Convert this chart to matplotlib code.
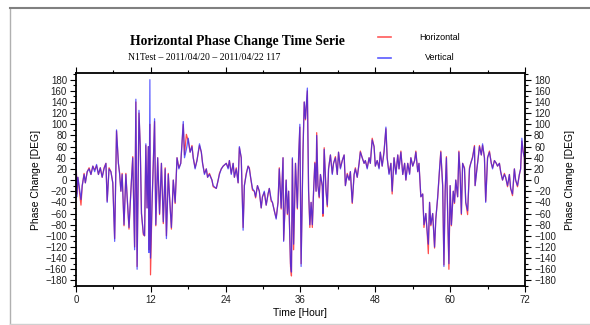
import matplotlib
matplotlib.use("Agg")
import matplotlib.pyplot as plt
from matplotlib.lines import Line2D
from matplotlib.ticker import MultipleLocator

# valores (horas, grados)
hours = [
    0.0, 0.15, 0.3, 0.5, 0.8, 1.0, 1.3, 1.5, 1.8, 2.1, 2.4, 2.7, 3.0, 3.3, 3.6, 3.9,
    4.2, 4.5, 4.8, 5.0, 5.3, 5.6, 5.9, 6.2, 6.5, 6.8, 7.0, 7.2, 7.4, 7.7, 8.0, 8.2,
    8.5, 8.8, 9.1, 9.4, 9.6, 9.8, 10.1, 10.3, 10.5, 10.8, 11.0, 11.2, 11.4, 11.6, 11.7, 11.85,
    11.95, 12.2, 12.4, 12.6, 12.8, 13.1, 13.4, 13.7, 14.0, 14.3, 14.5, 14.8, 15.1, 15.3, 15.6, 15.9,
    16.2, 16.5, 16.8, 17.2, 17.4, 17.7, 18.0, 18.3, 18.6, 18.8, 19.1, 19.4, 19.8, 20.1, 20.3, 20.6,
    20.9, 21.1, 21.4, 21.8, 22.0, 22.5, 22.8, 23.0, 23.3, 23.6, 24.1, 24.4, 24.6, 24.9, 25.2, 25.4,
    25.7, 26.0, 26.2, 26.5, 26.8, 27.0, 27.3, 27.6, 27.8, 28.0, 28.3, 28.6, 28.8, 29.1, 29.4, 29.7,
    29.9, 30.2, 30.5, 30.8, 31.0, 31.3, 31.5, 31.8, 32.1, 32.4, 32.6, 32.9, 33.2, 33.3, 33.7, 33.9,
    34.1, 34.4, 34.55, 34.7, 34.9, 35.2, 35.5, 35.7, 35.9, 36.1, 36.4, 36.6, 36.8, 37.1, 37.3, 37.5,
    37.7, 37.9, 38.1, 38.3, 38.5, 38.6, 38.8, 39.0, 39.2, 39.5, 39.6, 39.8, 40.1, 40.3, 40.5, 40.8,
    41.1, 41.3, 41.6, 41.9, 42.1, 42.4, 42.7, 43.0, 43.2, 43.5, 43.8, 44.0, 44.3, 44.6, 44.8, 45.1,
    45.4, 45.6, 45.9, 46.2, 46.4, 46.7, 47.0, 47.2, 47.5, 47.8, 48.0, 48.3, 48.6, 48.8, 49.1, 49.4,
    49.7, 49.9, 50.2, 50.5, 50.7, 51.0, 51.3, 51.6, 51.8, 52.1, 52.4, 52.7, 52.9, 53.2, 53.5, 53.7,
    54.0, 54.3, 54.5, 54.8, 55.0, 55.3, 55.6, 55.8, 56.1, 56.3, 56.5, 56.7, 56.9, 57.2, 57.5, 57.7,
    58.0, 58.3, 58.5, 58.8, 59.0, 59.2, 59.4, 59.6, 59.8, 60.0, 60.2, 60.5, 60.7, 60.9, 61.2, 61.4,
    61.6, 61.8, 62.0, 62.3, 62.5, 62.8, 63.1, 63.3, 63.6, 63.9, 64.0, 64.3, 64.5, 64.7, 65.0, 65.2,
    65.5, 65.7, 66.0, 66.3, 66.6, 66.8, 67.1, 67.4, 67.6, 67.9, 68.1, 68.4, 68.7, 68.9, 69.2, 69.5,
    69.7, 70.0, 70.3, 70.5, 70.8, 71.1, 71.3, 71.5, 71.7, 71.9, 72.0,
]

vertical = [
    50, -30, 5, -10, -35, -10, 10, -5, 15, 20, 10, 25, 15, 28, 10, 22,
    5, 20, 30, -40, 20, 15, -5, -110, 90, 30, 10, -20, 10, -80, 10, -30,
    -85, -20, 40, -125, 145, -160, 125, 60, -60, -95, -100, 65, -50, 60, -130, 180,
    -140, -40, 30, 110, -80, 40, -60, 30, -75, 20, -105, 10, -50, -85, 0, -40,
    40, 20, 30, 105, 40, 55, 75, 50, 60, 40, 20, 35, 65, 50, 30, 10,
    20, 5, 10, 0, -10, -15, 0, 10, 20, 25, 30, 20, 35, 10, 30, 5,
    20, -5, 60, 40, -90, -10, 10, 25, 20, 5, -15, -20, -30, -10, -20, -50,
    -30, -20, -45, -25, -15, -35, -40, -55, -70, -40, 20, -50, 40, -110, 0, -60,
    -20, -150, -165, 40, -115, 30, -50, 40, 100, -155, 50, 140, 110, 165, -20, -80,
    -40, -80, -20, 30, -20, 80, -10, -30, 10, -10, -60, 55, -20, -45, 20, 45,
    10, 30, 40, 10, 50, 20, 35, 45, -10, 10, 0, 15, -40, 10, 20, 5,
    30, 50, 40, 30, 35, 20, 40, 30, 72, 60, 25, 35, 20, 50, 25, 50,
    95, 40, 10, 30, -20, 40, 10, 45, 20, 50, 10, 30, 0, 30, 10, 40,
    25, 35, 50, 15, 30, -30, -25, -80, -60, -90, -115, -40, -80, -60, -120, -70,
    -30, 20, 50, -10, -155, -20, 40, -60, -150, -10, -80, -20, -40, 0, -30, 50,
    10, -60, 30, 20, -40, -55, 20, 30, 40, 60, -10, 20, 40, 60, 45, 65,
    40, -40, 40, 50, 30, 20, 35, 30, 25, 30, 15, 0, 10, 5, -10, 10,
    -15, -25, 20, 0, -10, 10, 20, 75, 50, 40, -90,
]

horizontal = [
    45, -25, 5, -15, -45, -10, 12, -5, 15, 22, 10, 25, 18, 26, 10, 22,
    5, 22, 30, -38, 22, 15, -5, -105, 88, 30, 12, -20, 12, -82, 12, -30,
    -88, -20, 42, -120, 140, -155, 120, 62, -60, -98, -100, 62, -50, 60, -125, 100,
    -170, -40, 32, 105, -82, 40, -62, 30, -78, 22, -100, 12, -50, -88, 0, -42,
    40, 22, 30, 100, 45, 82, 70, 50, 62, 40, 22, 35, 62, 50, 30, 12,
    20, 5, 12, 0, -12, -15, 0, 12, 20, 25, 30, 22, 35, 12, 30, 5,
    22, -5, 58, 40, -85, -10, 12, 25, 22, 5, -18, -20, -32, -10, -20, -50,
    -30, -22, -45, -25, -15, -38, -40, -55, -68, -40, 22, -52, 40, -108, 0, -62,
    -20, -155, -172, 38, -125, 30, -52, 40, 95, -150, 52, 140, 108, 160, -20, -85,
    -40, -85, -20, 32, -20, 85, -10, -32, 10, -12, -65, 58, -20, -48, 20, 45,
    12, 30, 42, 10, 50, 22, 35, 45, -10, 12, 0, 15, -42, 10, 22, 5,
    30, 52, 40, 30, 35, 22, 40, 30, 75, 60, 25, 35, 22, 50, 25, 52,
    92, 40, 12, 30, -25, 40, 12, 45, 20, 52, 10, 30, 0, 30, 12, 40,
    25, 35, 52, 15, 30, -30, -25, -85, -60, -92, -132, -40, -82, -60, -122, -70,
    -32, 20, 52, -10, -152, -20, 42, -62, -160, -10, -82, -20, -42, 0, -30, 52,
    10, -62, 30, 22, -40, -62, 22, 30, 42, 62, -10, 22, 40, 62, 45, 62,
    40, -38, 40, 52, 30, 22, 35, 30, 25, 30, 15, 0, 12, 5, -12, 10,
    -15, -28, 20, 0, -12, 10, 20, 70, 52, 40, -85,
]

xticks = [0, 12, 24, 36, 48, 60, 72]
yticks = list(range(-180, 181, 20))

plt.rcParams['font.family'] = ['Liberation Sans', 'DejaVu Sans']

fig = plt.figure(figsize=(5.9, 3.25), dpi=100)
ax = fig.add_axes([0.1288, 0.12, 0.761, 0.6554])

# marco de la pagina
fig.add_artist(Line2D([10/590, 10/590], [1 - 8/325, 1 - 324/325], transform=fig.transFigure,
                      color='#b0b0b0', lw=1))
fig.add_artist(Line2D([10/590, 1.0], [1 - 8/325, 1 - 8/325], transform=fig.transFigure,
                      color='#808080', lw=1.5))
fig.add_artist(Line2D([10/590, 1.0], [1 - 324/325, 1 - 324/325], transform=fig.transFigure,
                      color='#d0d0d0', lw=1))

ax.plot(hours, horizontal, color='#ff2020', lw=0.9, alpha=0.8)
ax.plot(hours, vertical, color='#2020ff', lw=0.9, alpha=0.7)

ax.set_xlim(0, 72)
ax.set_ylim(-190, 192)
ax.set_xticks(xticks)
ax.set_yticks(yticks)
ax.xaxis.set_minor_locator(MultipleLocator(6))
ax.yaxis.set_minor_locator(MultipleLocator(10))
ax.tick_params(which='both', direction='out', top=True, right=True, labelright=True,
               labelsize=7, width=0.8, pad=2.5, labelcolor='#222222')
ax.tick_params(which='major', length=4)
ax.tick_params(which='minor', length=2)
for s in ax.spines.values():
    s.set_linewidth(1.3)

ax.set_xlabel('Time [Hour]', fontsize=7.5, labelpad=2)
ax.set_ylabel('Phase Change [DEG]', fontsize=7.5, labelpad=3)
ax2 = ax.secondary_yaxis('right')
ax2.set_yticks([])
ax2.set_ylabel('Phase Change [DEG]', fontsize=7.5, labelpad=29)
ax2.spines['right'].set_visible(False)

fig.text(237/590, 1 - 42/325, 'Horizontal Phase Change Time Serie', family='Liberation Serif',
         weight='bold', fontsize=9.8, ha='center', va='center')
fig.text(128/590, 1 - 57/325, 'N1Test – 2011/04/20 – 2011/04/22 117', family='Liberation Serif',
         fontsize=7, ha='left', va='center')

# leyenda manual
for yy, col, lab in [(37, '#ff5a5a', 'Horizontal'), (58, '#5a5aff', 'Vertical')]:
    fig.add_artist(Line2D([378/590, 391/590], [1 - yy/325, 1 - yy/325], transform=fig.transFigure,
                          color=col, lw=1.2))
    fig.text(440/590, 1 - yy/325, lab, fontsize=6.5, ha='center', va='center')

fig.savefig('out.png', dpi=100)
